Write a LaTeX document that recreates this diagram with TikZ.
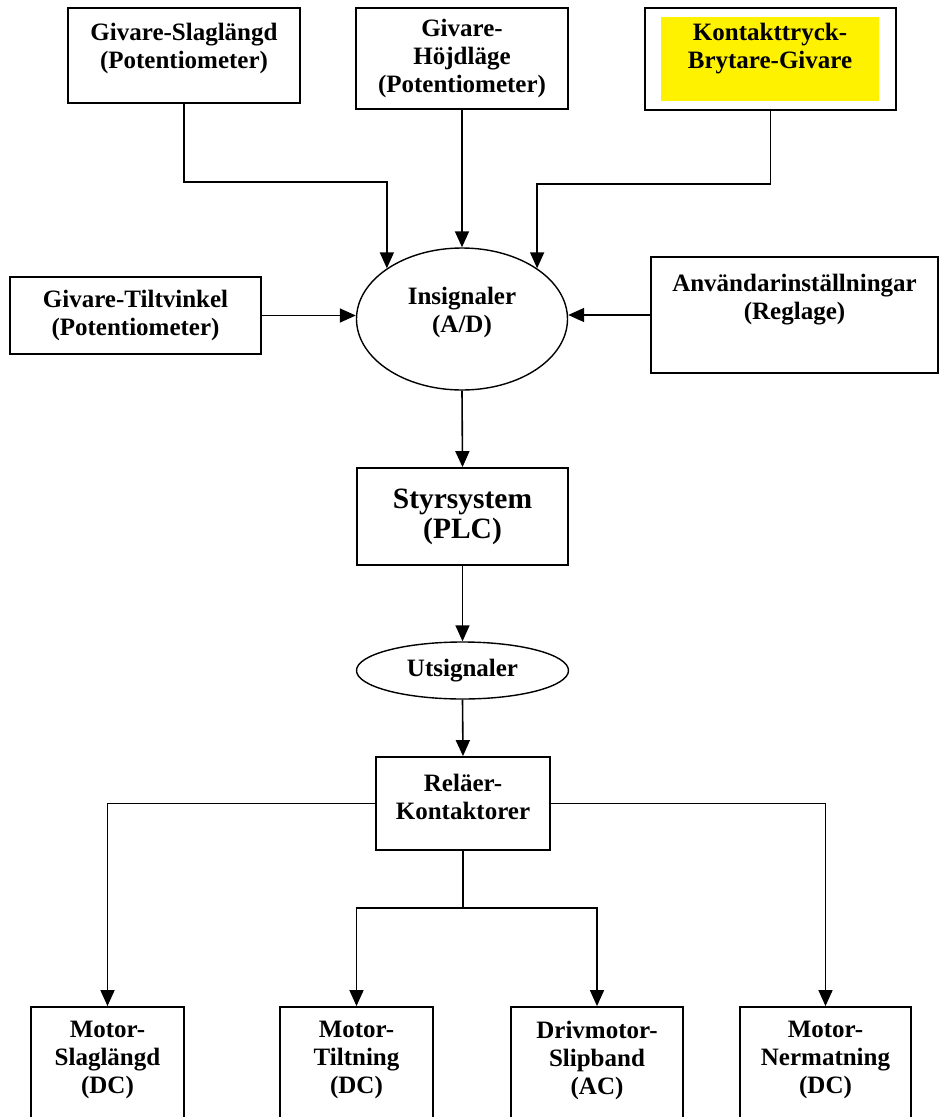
\documentclass[tikz,border=0pt]{standalone}
\usepackage{fontspec}
\setmainfont{Liberation Serif}
\usetikzlibrary{arrows.meta,shapes.geometric}
\begin{document}
\begin{tikzpicture}[x=1pt,y=-1pt,
  box/.style={draw,line width=1.8pt,rectangle,inner sep=0pt},
  oval/.style={draw,line width=1.4pt,ellipse,inner sep=0pt},
  txt/.style={align=center,inner sep=0pt,font=\bfseries\fontsize{25}{28}\selectfont},
  arr/.style={line width=1.6pt,-{Triangle[length=16pt,width=14pt]}}]
\useasboundingbox (0,0) rectangle (940,1117);
\node[box,minimum width=232pt,minimum height=95pt] (gs) at (184,55.5) {};
\node[txt,anchor=north] (gst) at (184,23) {Givare-Slaglängd\\(Potentiometer)};
\node[box,txt,minimum width=212pt,minimum height=101pt] (gh) at (462,58.5) {Givare-\\Höjdläge\\(Potentiometer)};
\node[box,minimum width=251pt,minimum height=102pt] (kbg) at (770.5,59) {};
\fill[yellow] (661,17) rectangle (879,101);
\node[txt,anchor=north] (kbgt) at (770,23) {Kontakttryck-\\Brytare-Givare};
\node[box,txt,minimum width=251pt,minimum height=77pt] (gt) at (135.5,315.5) {Givare-Tiltvinkel\\(Potentiometer)};
\node[box,minimum width=287pt,minimum height=116pt] (ai) at (794.5,315) {};
\node[txt,anchor=north] (ait) at (794.5,274) {Användarinställningar\\(Reglage)};
\node[oval,minimum width=211pt,minimum height=142pt] (ins) at (462,319) {};
\node[txt,yshift=7pt] (inst) at (ins) {Insignaler\\(A/D)};
\node[box,txt,font=\bfseries\fontsize{29.5}{30}\selectfont,minimum width=211pt,minimum height=97pt] (sty) at (462.5,516.5) {Styrsystem\\(PLC)};
\node[oval,txt,minimum width=212pt,minimum height=57pt] (ut) at (462.5,670.5) {Utsignaler};
\node[box,minimum width=174pt,minimum height=93pt] (rel) at (463,803.5) {};
\node[txt,yshift=7pt] (relt) at (rel) {Reläer-\\Kontaktorer};
\foreach \n/\x/\w/\lbl in {m1/107.5/153/{Motor-\\Slaglängd\\(DC)},m2/356.5/153/{Motor-\\Tiltning\\(DC)},m3/597/172/{Drivmotor-\\Slipband\\(AC)},m4/825.5/171/{Motor-\\Nermatning\\(DC)}}{
  \node[box,minimum width=\w pt,minimum height=140pt] (\n) at (\x,1077) {};
  \node[txt,anchor=north] (\n t) at (\x,1021) {\lbl};
}
\draw[arr] (gs.south) -- ++(0,78) -| (ins.146);
\draw[arr] (gh.south) -- (ins.north);
\draw[arr] (kbg.south) -- ++(0,73) -| (ins.34);
\draw[arr] (gt.east) -- (gt.east -| ins.west);
\draw[arr] (ai.west) -- (ai.west -| ins.east);
\draw[arr] (ins.south) -- (sty.north);
\draw[arr] (sty.south) -- (ut.north);
\draw[arr] (ut.south) -- (rel.north);
\draw[arr] (rel.west) -| (m1.north);
\draw[arr] (rel.east) -| (m4.north);
\coordinate (split) at (463,908);
\draw[line width=1.6pt] (rel.south) -- (split);
\draw[arr] (split) -| (m2.north);
\draw[arr] (split) -| (m3.north);
\end{tikzpicture}
\end{document}
